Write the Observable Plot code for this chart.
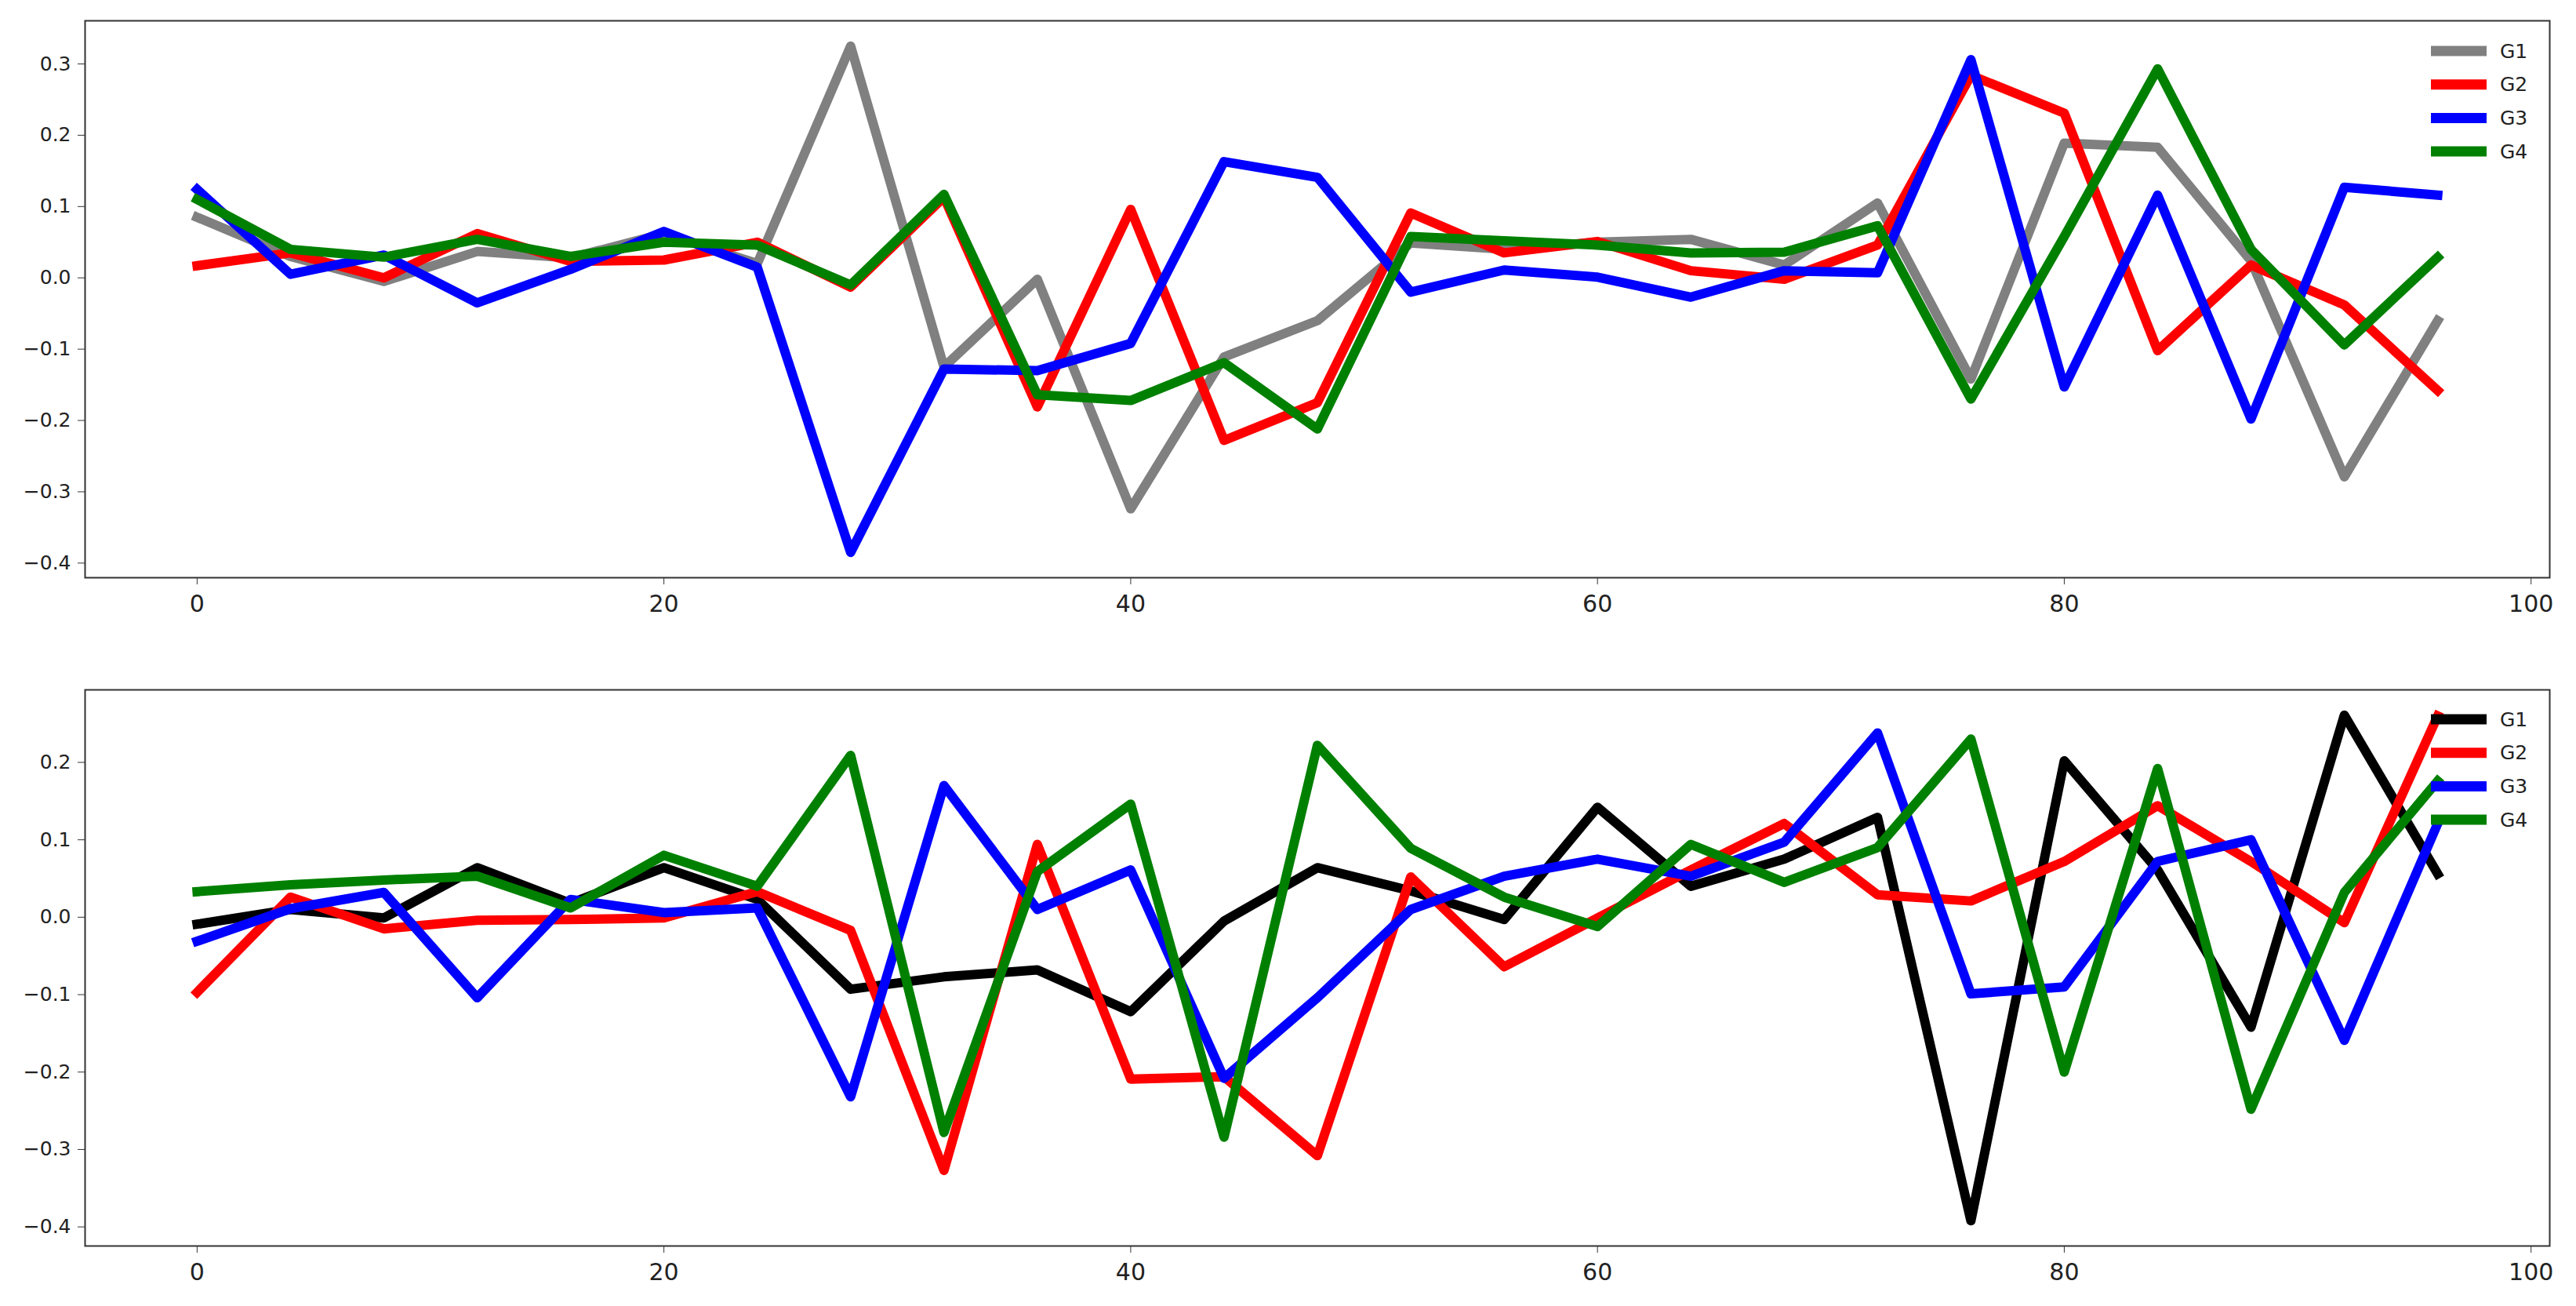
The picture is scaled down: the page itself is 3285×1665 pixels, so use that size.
<!DOCTYPE html>
<html>
<head>
<meta charset="utf-8">
<script src="https://cdn.jsdelivr.net/npm/d3@7"></script>
<script src="https://cdn.jsdelivr.net/npm/@observablehq/plot@0.6"></script>
<style>
  html, body { margin: 0; padding: 0; background: #fff; }
  #wrap { position: relative; width: 3285px; height: 1665px; font-family: "DejaVu Sans", sans-serif; }
</style>
</head>
<body>
<div id="wrap"></div>
<script>
// ---- data ----
const xs = [0, 4, 8, 12, 16, 20, 24, 28, 32, 36, 40, 44, 48, 52, 56, 60, 64, 68, 72, 76, 80, 84, 88, 92, 96];
const seriesNames = ["G1", "G2", "G3", "G4"];

const topG1 = [0.085, 0.03, -0.005, 0.037, 0.028, 0.062, 0.02, 0.325, -0.125, -0.002, -0.324, -0.111, -0.06, 0.049, 0.04, 0.05, 0.054, 0.018, 0.105, -0.142, 0.189, 0.183, 0.024, -0.279, -0.06];
const topG2 = [0.017, 0.035, 0.0, 0.062, 0.023, 0.025, 0.05, -0.013, 0.113, -0.181, 0.096, -0.228, -0.175, 0.091, 0.035, 0.051, 0.01, -0.002, 0.046, 0.284, 0.231, -0.102, 0.018, -0.038, -0.158];
const topG3 = [0.124, 0.005, 0.032, -0.035, 0.012, 0.065, 0.015, -0.385, -0.128, -0.13, -0.092, 0.163, 0.141, -0.02, 0.011, 0.001, -0.027, 0.01, 0.007, 0.306, -0.153, 0.116, -0.198, 0.127, 0.116];
const topG4 = [0.11, 0.04, 0.029, 0.054, 0.03, 0.05, 0.046, -0.01, 0.117, -0.164, -0.172, -0.119, -0.212, 0.058, 0.052, 0.046, 0.035, 0.036, 0.073, -0.17, 0.058, 0.293, 0.04, -0.094, 0.029];

const botG1 = [-0.009, 0.01, -0.001, 0.064, 0.018, 0.064, 0.023, -0.093, -0.077, -0.068, -0.122, -0.005, 0.064, 0.034, -0.003, 0.142, 0.04, 0.075, 0.129, -0.392, 0.202, 0.061, -0.142, 0.261, 0.056];
const botG2 = [-0.097, 0.026, -0.015, -0.004, -0.003, -0.001, 0.033, -0.017, -0.327, 0.094, -0.209, -0.206, -0.308, 0.052, -0.064, -0.001, 0.061, 0.121, 0.029, 0.021, 0.072, 0.144, 0.072, -0.007, 0.26];
const botG3 = [-0.031, 0.011, 0.032, -0.104, 0.023, 0.006, 0.012, -0.232, 0.17, 0.01, 0.061, -0.208, -0.104, 0.01, 0.053, 0.075, 0.053, 0.097, 0.238, -0.099, -0.09, 0.072, 0.1, -0.159, 0.121];
const botG4 = [0.033, 0.042, 0.048, 0.053, 0.012, 0.08, 0.04, 0.209, -0.278, 0.059, 0.146, -0.284, 0.222, 0.089, 0.026, -0.012, 0.094, 0.045, 0.09, 0.23, -0.2, 0.192, -0.248, 0.032, 0.176];

const topColors = ["#808080", "#ff0000", "#0000ff", "#008000"];
const botColors = ["#000000", "#ff0000", "#0000ff", "#008000"];

const xTicks = [0, 20, 40, 60, 80, 100];
const topYTicks = [-0.4, -0.3, -0.2, -0.1, 0.0, 0.1, 0.2, 0.3];
const botYTicks = [-0.4, -0.3, -0.2, -0.1, 0.0, 0.1, 0.2];

// ---- helpers ----
const W = 3285;
const LW = 12;
const fmt = d3.format(".1f");

function buildRows(seriesArrays) {
  const rows = [];
  seriesArrays.forEach((arr, i) => {
    arr.forEach((v, j) => rows.push({series: seriesNames[i], x: xs[j], y: v}));
  });
  return rows;
}

function xDomain() {
  const lo = d3.min(xs), hi = d3.max(xs), pad = (hi - lo) * 0.05;
  return [lo - pad, hi + pad];
}
function yDomain(arrays) {
  const all = arrays.flat();
  const lo = d3.min(all), hi = d3.max(all), pad = (hi - lo) * 0.05;
  return [lo - pad, hi + pad];
}

function makePanel(arrays, colors, yTicks, opts) {
  const rows = buildRows(arrays);
  const marks = [Plot.frame({stroke: "#333", strokeWidth: 2})];
  seriesNames.forEach((name, i) => {
    marks.push(Plot.line(rows.filter(r => r.series === name), {
      x: "x", y: "y", stroke: colors[i], strokeWidth: LW,
      strokeLinejoin: "round", strokeLinecap: "square"
    }));
  });
  marks.push(Plot.axisX({ticks: xTicks, tickSize: 9, tickPadding: 13, fontSize: 30, tickFormat: d => String(d), label: null, stroke: "#333", color: "#222"}));
  marks.push(Plot.axisY({ticks: yTicks, tickSize: 9, tickPadding: 9, fontSize: 25, tickFormat: fmt, label: null, stroke: "#333", color: "#222"}));
  return Plot.plot({
    width: W,
    height: opts.height,
    marginLeft: 108,
    marginRight: 34,
    marginTop: opts.marginTop,
    marginBottom: opts.marginBottom,
    style: {fontFamily: "DejaVu Sans, sans-serif", background: "#fff", overflow: "visible"},
    x: {domain: xDomain()},
    y: {domain: yDomain(arrays)},
    marks
  });
}

function makeLegend(colors, topPx) {
  const svg = d3.create("svg").attr("width", 200).attr("height", 170)
    .style("position", "absolute").style("left", "3085px").style("top", topPx + "px")
    .style("overflow", "visible");
  seriesNames.forEach((name, i) => {
    const cy = 15 + i * 42.7;
    svg.append("line").attr("x1", 15).attr("x2", 86).attr("y1", cy).attr("y2", cy)
      .attr("stroke", colors[i]).attr("stroke-width", 13);
    svg.append("text").attr("x", 103).attr("y", cy).attr("dy", "0.35em")
      .attr("font-family", "DejaVu Sans, sans-serif").attr("font-size", 25).attr("fill", "#222")
      .text(name);
  });
  return svg.node();
}

const wrapEl = document.getElementById("wrap");

const topPanel = makePanel([topG1, topG2, topG3, topG4], topColors, topYTicks, {height: 820, marginTop: 26, marginBottom: 84});
topPanel.style.position = "absolute"; topPanel.style.top = "0px"; topPanel.style.left = "0px";
wrapEl.appendChild(topPanel);

const botPanel = makePanel([botG1, botG2, botG3, botG4], botColors, botYTicks, {height: 845, marginTop: 59, marginBottom: 77});
botPanel.style.position = "absolute"; botPanel.style.top = "820px"; botPanel.style.left = "0px";
wrapEl.appendChild(botPanel);

wrapEl.appendChild(makeLegend(topColors, 50));
wrapEl.appendChild(makeLegend(botColors, 902));
</script>
</body>
</html>
